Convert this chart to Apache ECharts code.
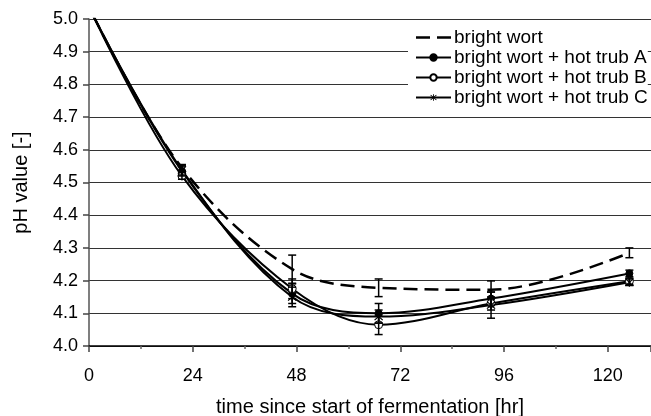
<!DOCTYPE html>
<html>
<head>
<meta charset="utf-8">
<script src="https://cdn.jsdelivr.net/npm/echarts@6/dist/echarts.min.js"></script>
<style>
html,body{margin:0;padding:0;background:#fff;}
#chart{width:651px;height:416px;}
</style>
</head>
<body>
<div id="chart"></div>
<script>
// ---- data ----
const timeHours = [1, 21.5, 47, 67, 93, 125];
const brightWort = [5.01, 4.545, 4.235, 4.178, 4.172, 4.285];
const trubA = [5.01, 4.535, 4.160, 4.100, 4.145, 4.222];
const trubB = [5.01, 4.520, 4.175, 4.065, 4.130, 4.198];
const trubC = [5.01, 4.538, 4.150, 4.090, 4.125, 4.195];
const errBright = [0, 0.010, 0.043, 0.027, 0.027, 0.015];
const errA = [0, 0.015, 0.030, 0.030, 0.020, 0.010];
const errB = [0, 0.010, 0.030, 0.030, 0.020, 0.010];
const errC = [0, 0.015, 0.030, 0.020, 0.040, 0.010];
const seriesNames = ['bright wort', 'bright wort + hot trub A', 'bright wort + hot trub B', 'bright wort + hot trub C'];
const xTicks = [0, 24, 48, 72, 96, 120];

const FONT = '"Liberation Sans", Arial, sans-serif';
const asterisk = 'path://M-0.6,-5L0.6,-5L0.6,5L-0.6,5Z M-3.58,-4.42L4.42,3.58L3.58,4.42L-4.42,-3.58Z M-3.58,4.42L4.42,-3.58L3.58,-4.42L-4.42,3.58Z';
const dashIcon = 'path://M0,0L14,0L14,2.5L0,2.5Z M21,0L35,0L35,2.5L21,2.5Z';

function pairs(ys) {
  return timeHours.map((t, i) => (i === 0 ? { value: [t, ys[i]], symbol: 'none' } : [t, ys[i]]));
}
function errData(ys, es) { return timeHours.map((t, i) => [t, ys[i], es[i]]); }

function errSeries(ys, es) {
  return {
    type: 'custom',
    data: errData(ys, es),
    z: 5,
    silent: true,
    renderItem: function (params, api) {
      const t = api.value(0), v = api.value(1), e = api.value(2);
      if (!e) return null;
      const hi = api.coord([t, v + e]);
      const lo = api.coord([t, v - e]);
      const w = 4;
      const st = { stroke: '#000', lineWidth: 1.5 };
      return {
        type: 'group',
        children: [
          { type: 'line', shape: { x1: hi[0], y1: hi[1], x2: lo[0], y2: lo[1] }, style: st },
          { type: 'line', shape: { x1: hi[0] - w, y1: hi[1], x2: hi[0] + w, y2: hi[1] }, style: st },
          { type: 'line', shape: { x1: lo[0] - w, y1: lo[1], x2: lo[0] + w, y2: lo[1] }, style: st }
        ]
      };
    }
  };
}

const chart = echarts.init(document.getElementById('chart'), null, { renderer: 'canvas' });
chart.setOption({
  animation: false,
  backgroundColor: '#fff',
  textStyle: { fontFamily: FONT, color: '#000' },
  grid: { left: 89, top: 19, right: 0, bottom: 70, containLabel: false, outerBoundsMode: 'none' },
  legend: {
    orient: 'vertical',
    left: 408,
    top: 26,
    padding: [2, 0, 6, 7],
    backgroundColor: '#fff',
    itemWidth: 35,
    itemHeight: 8,
    itemGap: 1,
    textStyle: { fontFamily: FONT, fontSize: 19, color: '#000', padding: [0, 0, 0, -2] },
    data: [
      { name: seriesNames[0], icon: dashIcon },
      seriesNames[1], seriesNames[2], seriesNames[3]
    ]
  },
  xAxis: {
    type: 'value',
    min: 0,
    max: 130,
    interval: 24,
    name: 'time since start of fermentation [hr]',
    nameLocation: 'middle',
    nameGap: 51,
    nameTextStyle: { fontFamily: FONT, fontSize: 20, color: '#000' },
    axisLine: { onZero: false, lineStyle: { color: '#000', width: 1.5 } },
    axisTick: { show: true, length: 6, lineStyle: { color: '#444', width: 1.5 } },
    minorTick: { show: true, splitNumber: 2, length: 3, lineStyle: { color: '#666', width: 1.5 } },
    axisLabel: { fontFamily: FONT, fontSize: 18, color: '#000', margin: 21,
      formatter: (v) => (xTicks.indexOf(v) >= 0 ? String(v) : '') },
    splitLine: { show: false }
  },
  yAxis: {
    type: 'value',
    min: 4.0,
    max: 5.0,
    interval: 0.1,
    name: 'pH value [-]',
    nameLocation: 'middle',
    nameGap: 58,
    nameTextStyle: { fontFamily: FONT, fontSize: 20, color: '#000' },
    axisLine: { show: true, lineStyle: { color: '#555', width: 1.5 } },
    axisTick: { show: true, length: 6, lineStyle: { color: '#444', width: 1.5 } },
    axisLabel: { fontFamily: FONT, fontSize: 18, color: '#000', margin: 11,
      formatter: (v) => v.toFixed(1) },
    splitLine: { show: true, lineStyle: { color: '#333', width: 1.2 } }
  },
  series: [
    {
      name: seriesNames[0], type: 'line', data: pairs(brightWort), smooth: 0.35,
      symbol: 'none', z: 3,
      lineStyle: { color: '#000', width: 2.5, type: [14, 7] },
      itemStyle: { color: '#000' }
    },
    {
      name: seriesNames[1], type: 'line', data: pairs(trubA), smooth: 0.35,
      symbol: 'circle', symbolSize: 7, showAllSymbol: true, z: 4,
      lineStyle: { color: '#000', width: 2 },
      itemStyle: { color: '#000', borderColor: '#000', borderWidth: 1 }
    },
    {
      name: seriesNames[2], type: 'line', data: pairs(trubB), smooth: 0.35,
      symbol: 'circle', symbolSize: 8, showAllSymbol: true, z: 4,
      lineStyle: { color: '#000', width: 2 },
      itemStyle: { color: '#fff', borderColor: '#000', borderWidth: 1 }
    },
    {
      name: seriesNames[3], type: 'line', data: pairs(trubC), smooth: 0.35,
      symbol: asterisk, symbolSize: 9, showAllSymbol: true, z: 4,
      lineStyle: { color: '#000', width: 2 },
      itemStyle: { color: '#000' }
    },
    errSeries(brightWort, errBright),
    errSeries(trubA, errA),
    errSeries(trubB, errB),
    errSeries(trubC, errC)
  ]
});
</script>
</body>
</html>
